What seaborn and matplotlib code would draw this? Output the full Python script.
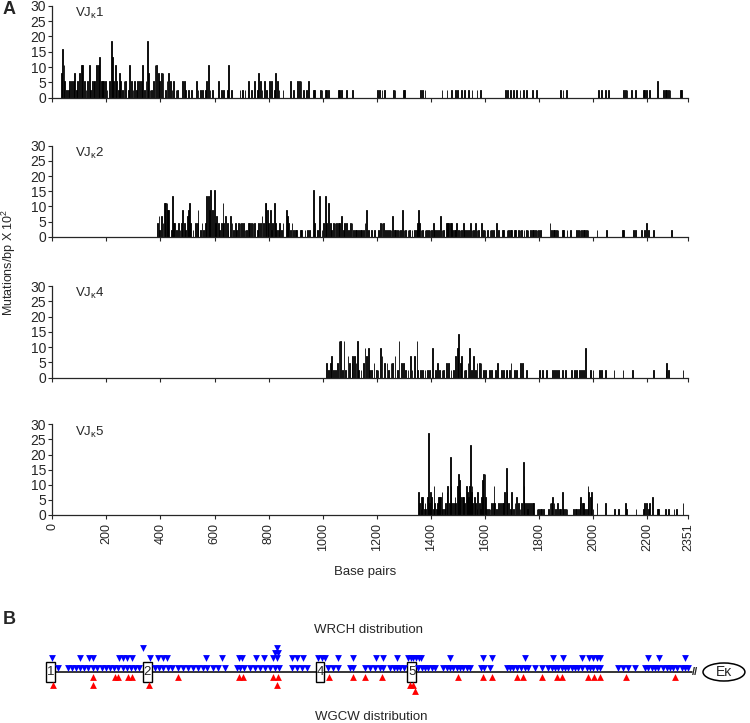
import matplotlib.pyplot as plt
from matplotlib.patches import Rectangle, Ellipse
import seaborn as sns

# ---- data: (base pair position, mutations/bp x 10^2) ----
vjk1 = [(35, 7.9), (38, 15.8), (43, 10.5), (47, 5.3), (53, 2.6), (59, 2.6), (65, 5.3), (71, 5.3),
        (78, 5.3), (81, 7.9), (88, 2.6), (94, 5.3), (100, 7.9), (106, 10.5), (112, 10.5), (117, 5.3),
        (125, 2.6), (131, 5.3), (137, 10.5), (142, 2.6), (148, 5.3), (154, 5.3), (158, 5.3), (164, 10.5),
        (170, 10.5), (174, 13.2), (180, 5.3), (185, 5.3), (191, 5.3), (197, 5.3), (203, 2.6), (210, 5.3),
        (217, 18.4), (222, 13.2), (226, 5.3), (232, 10.5), (238, 5.3), (244, 2.6), (248, 7.9), (254, 5.3),
        (260, 2.6), (266, 5.3), (272, 5.3), (279, 2.6), (285, 10.5), (291, 5.3), (297, 2.6), (303, 5.3),
        (309, 2.6), (316, 5.3), (322, 5.3), (328, 5.3), (334, 10.5), (340, 2.6), (346, 5.3), (351, 18.4),
        (356, 7.9), (361, 2.6), (367, 2.6), (374, 5.3), (380, 10.5), (386, 10.5), (392, 7.9), (398, 5.3),
        (404, 7.9), (410, 7.9), (417, 2.6), (423, 5.3), (429, 7.9), (435, 5.3), (441, 2.6), (447, 5.3),
        (457, 2.6), (463, 2.6), (482, 5.3), (487, 5.3), (492, 2.6), (503, 2.6), (515, 2.6), (531, 5.3),
        (537, 2.6), (546, 2.6), (556, 2.6), (565, 2.6), (571, 5.3), (577, 10.5), (583, 2.6), (592, 2.6),
        (614, 5.3), (626, 2.6), (635, 2.6), (645, 2.6), (653, 10.5), (661, 2.6), (694, 2.6), (703, 2.6),
        (713, 2.6), (725, 5.3), (737, 2.6), (749, 5.3), (758, 2.6), (764, 7.9), (768, 5.3), (774, 2.6),
        (783, 5.3), (792, 2.6), (802, 5.3), (811, 5.3), (820, 2.6), (827, 7.9), (832, 5.3), (839, 2.6),
        (854, 2.6), (881, 5.3), (891, 2.6), (907, 5.3), (913, 5.3), (920, 5.3), (928, 2.6), (941, 2.6),
        (947, 5.3), (965, 2.6), (971, 2.6), (990, 2.6), (996, 2.6), (1008, 2.6), (1015, 2.6), (1021, 2.6),
        (1058, 2.6), (1064, 2.6), (1070, 2.6), (1088, 2.6), (1111, 2.6), (1202, 2.6), (1209, 2.6),
        (1218, 2.6), (1227, 2.6), (1261, 2.6), (1267, 2.6), (1296, 2.6), (1302, 2.6), (1360, 2.6),
        (1370, 2.6), (1378, 2.6), (1440, 2.6), (1458, 2.6), (1477, 2.6), (1493, 2.6), (1498, 2.6),
        (1514, 2.6), (1526, 2.6), (1539, 2.6), (1551, 2.6), (1569, 2.6), (1582, 2.6), (1674, 2.6),
        (1683, 2.6), (1693, 2.6), (1705, 2.6), (1717, 2.6), (1730, 2.6), (1742, 2.6), (1754, 2.6),
        (1773, 2.6), (1789, 2.6), (1878, 2.6), (1887, 2.6), (1900, 2.6), (2019, 2.6), (2032, 2.6),
        (2044, 2.6), (2056, 2.6), (2112, 2.6), (2118, 2.6), (2124, 2.6), (2143, 2.6), (2155, 2.6),
        (2186, 2.6), (2192, 2.6), (2198, 2.6), (2208, 2.6), (2238, 5.3), (2260, 2.6), (2266, 2.6),
        (2272, 2.6), (2278, 2.6), (2284, 2.6), (2324, 2.6), (2327, 2.6)]

vjk2 = [(388, 4.4), (393, 6.7), (398, 2.2), (403, 6.7), (408, 4.4), (414, 11.1), (419, 11.1), (423, 11.1),
        (427, 8.9), (431, 8.9), (438, 2.2), (444, 13.3), (447, 4.4), (452, 4.4), (460, 2.2), (466, 4.4),
        (472, 2.2), (477, 4.4), (482, 8.9), (487, 4.4), (493, 2.2), (499, 6.7), (503, 8.9), (508, 11.1),
        (512, 4.4), (519, 2.2), (528, 4.4), (534, 4.4), (539, 8.9), (546, 2.2), (552, 4.4), (558, 2.2),
        (565, 4.4), (571, 13.3), (576, 13.3), (581, 8.9), (587, 15.5), (592, 8.9), (598, 15.5), (603, 4.4),
        (608, 6.7), (614, 4.4), (620, 2.2), (625, 4.4), (630, 11.1), (635, 4.4), (640, 6.7), (645, 4.4),
        (650, 2.2), (657, 6.7), (663, 4.4), (669, 2.2), (676, 4.4), (682, 2.2), (688, 4.4), (694, 4.4),
        (700, 4.4), (706, 4.4), (712, 2.2), (719, 2.2), (725, 4.4), (731, 4.4), (737, 4.4), (743, 4.4),
        (749, 4.4), (756, 2.2), (763, 4.4), (768, 4.4), (774, 6.7), (780, 4.4), (786, 11.1), (790, 11.1),
        (795, 8.9), (800, 4.4), (805, 8.9), (810, 2.2), (815, 4.4), (820, 11.1), (825, 4.4), (830, 2.2),
        (836, 2.2), (842, 4.4), (848, 2.2), (854, 4.4), (864, 8.9), (869, 6.7), (874, 4.4), (879, 2.2),
        (885, 4.4), (891, 2.2), (897, 2.2), (904, 2.2), (916, 2.2), (922, 2.2), (934, 2.2), (943, 2.2),
        (953, 2.2), (965, 15.5), (971, 4.4), (978, 2.2), (987, 13.3), (996, 2.2), (1002, 4.4), (1008, 13.3),
        (1015, 4.4), (1021, 11.1), (1027, 4.4), (1033, 2.2), (1039, 4.4), (1045, 4.4), (1052, 4.4),
        (1058, 4.4), (1064, 4.4), (1070, 6.7), (1076, 2.2), (1082, 4.4), (1088, 4.4), (1095, 2.2),
        (1101, 4.4), (1107, 4.4), (1113, 2.2), (1119, 2.2), (1125, 2.2), (1132, 2.2), (1138, 2.2),
        (1144, 2.2), (1150, 2.2), (1156, 4.4), (1162, 8.9), (1169, 2.2), (1181, 2.2), (1193, 2.2),
        (1206, 2.2), (1214, 4.4), (1219, 4.4), (1224, 4.4), (1230, 2.2), (1239, 2.2), (1246, 2.2),
        (1251, 2.2), (1258, 6.7), (1264, 2.2), (1270, 2.2), (1276, 2.2), (1282, 2.2), (1288, 2.2),
        (1294, 8.9), (1301, 2.2), (1307, 2.2), (1314, 2.2), (1320, 2.2), (1329, 2.2), (1338, 2.2),
        (1344, 2.2), (1350, 4.4), (1354, 8.9), (1357, 4.4), (1362, 2.2), (1370, 2.2), (1378, 2.2),
        (1385, 2.2), (1391, 2.2), (1397, 2.2), (1403, 2.2), (1409, 4.4), (1415, 2.2), (1421, 2.2),
        (1428, 2.2), (1434, 6.7), (1440, 2.2), (1446, 2.2), (1456, 4.4), (1461, 4.4), (1466, 4.4),
        (1471, 4.4), (1476, 4.4), (1481, 2.2), (1486, 2.2), (1491, 2.2), (1495, 4.4), (1502, 2.2),
        (1508, 2.2), (1514, 2.2), (1520, 4.4), (1526, 2.2), (1532, 2.2), (1539, 2.2), (1545, 4.4),
        (1551, 2.2), (1557, 2.2), (1563, 4.4), (1569, 2.2), (1576, 2.2), (1588, 4.4), (1594, 2.2),
        (1600, 2.2), (1609, 2.2), (1619, 2.2), (1625, 2.2), (1631, 2.2), (1643, 4.4), (1650, 2.2),
        (1662, 2.2), (1668, 2.2), (1680, 2.2), (1686, 2.2), (1693, 2.2), (1699, 2.2), (1707, 2.2),
        (1715, 2.2), (1723, 2.2), (1730, 2.2), (1736, 2.2), (1744, 2.2), (1752, 2.2), (1760, 2.2),
        (1767, 2.2), (1773, 2.2), (1779, 2.2), (1785, 2.2), (1791, 2.2), (1797, 2.2), (1804, 2.2),
        (1841, 4.4), (1847, 2.2), (1853, 2.2), (1859, 2.2), (1865, 2.2), (1871, 2.2), (1884, 2.2),
        (1890, 2.2), (1902, 2.2), (1915, 2.2), (1939, 2.2), (1945, 2.2), (1952, 2.2), (1958, 2.2),
        (1964, 2.2), (1970, 2.2), (1976, 2.2), (1982, 2.2), (2013, 2.2), (2050, 2.2), (2106, 2.2),
        (2112, 2.2), (2149, 2.2), (2155, 2.2), (2180, 2.2), (2192, 2.2), (2198, 4.4), (2204, 2.2),
        (2223, 2.2), (2291, 2.2)]

vjk4 = [(1015, 4.8), (1020, 2.4), (1027, 4.8), (1033, 7.2), (1038, 2.4), (1047, 2.4), (1054, 4.8),
        (1059, 12.0), (1066, 12.0), (1071, 2.4), (1077, 12.0), (1084, 2.4), (1092, 7.2), (1100, 4.8),
        (1107, 4.8), (1112, 7.2), (1117, 7.2), (1123, 4.8), (1128, 12.0), (1133, 2.4), (1142, 2.4),
        (1149, 4.8), (1156, 9.6), (1161, 7.2), (1167, 9.6), (1174, 2.4), (1181, 2.4), (1188, 4.8),
        (1197, 2.4), (1204, 2.4), (1213, 9.6), (1220, 7.2), (1227, 4.8), (1236, 4.8), (1244, 2.4),
        (1251, 4.8), (1258, 4.8), (1267, 7.2), (1276, 2.4), (1283, 12.0), (1290, 4.8), (1297, 4.8),
        (1306, 2.4), (1315, 2.4), (1324, 7.2), (1331, 2.4), (1338, 7.2), (1347, 12.0), (1352, 2.4),
        (1359, 2.4), (1368, 2.4), (1377, 2.4), (1386, 2.4), (1394, 2.4), (1405, 9.6), (1416, 2.4),
        (1423, 4.8), (1431, 2.4), (1440, 2.4), (1447, 2.4), (1456, 4.8), (1465, 4.8), (1474, 2.4),
        (1483, 2.4), (1491, 7.2), (1497, 9.6), (1502, 14.4), (1509, 4.8), (1514, 7.2), (1521, 2.4),
        (1528, 2.4), (1536, 4.8), (1543, 9.6), (1550, 2.4), (1557, 7.2), (1564, 2.4), (1571, 4.8),
        (1578, 4.8), (1585, 4.8), (1594, 2.4), (1603, 2.4), (1615, 2.4), (1624, 2.4), (1638, 2.4),
        (1645, 4.8), (1659, 2.4), (1668, 2.4), (1677, 2.4), (1682, 2.4), (1689, 2.4), (1696, 4.8),
        (1709, 2.4), (1717, 2.4), (1733, 4.8), (1739, 4.8), (1753, 2.4), (1800, 2.4), (1813, 2.4),
        (1827, 2.4), (1850, 2.4), (1857, 2.4), (1864, 2.4), (1874, 2.4), (1885, 2.4), (1897, 2.4),
        (1920, 2.4), (1929, 2.4), (1938, 2.4), (1947, 2.4), (1956, 2.4), (1963, 2.4), (1972, 9.6),
        (1991, 2.4), (2000, 2.4), (2024, 2.4), (2033, 2.4), (2044, 2.4), (2077, 2.4), (2109, 2.4),
        (2146, 2.4), (2224, 2.4), (2270, 2.4), (2273, 4.8), (2279, 2.4), (2333, 2.4)]

vjk5 = [(1354, 7.7), (1357, 3.9), (1362, 1.9), (1366, 5.8), (1370, 5.8), (1375, 1.9), (1378, 3.9),
        (1382, 1.9), (1387, 5.8), (1391, 27.0), (1394, 3.9), (1398, 7.7), (1402, 5.8), (1407, 1.9),
        (1412, 9.7), (1415, 3.9), (1419, 1.9), (1424, 3.9), (1428, 5.8), (1431, 5.8), (1436, 5.8),
        (1440, 7.7), (1444, 1.9), (1449, 1.9), (1454, 3.9), (1458, 7.7), (1462, 9.7), (1467, 3.9),
        (1471, 19.3), (1474, 9.7), (1478, 3.9), (1483, 3.9), (1488, 5.8), (1493, 3.9), (1497, 9.7),
        (1500, 13.5), (1504, 11.6), (1508, 7.7), (1511, 5.8), (1515, 5.8), (1520, 5.8), (1525, 3.9),
        (1531, 9.7), (1535, 7.7), (1539, 5.8), (1542, 9.7), (1545, 23.2), (1548, 7.7), (1552, 9.7),
        (1556, 3.9), (1560, 5.8), (1564, 3.9), (1569, 1.9), (1574, 7.7), (1579, 3.9), (1583, 1.9),
        (1588, 5.8), (1592, 11.6), (1595, 13.5), (1599, 13.5), (1603, 5.8), (1606, 1.9), (1613, 1.9),
        (1619, 1.9), (1625, 3.9), (1629, 3.9), (1633, 9.7), (1637, 3.9), (1643, 1.9), (1650, 3.9),
        (1656, 3.9), (1662, 3.9), (1668, 3.9), (1673, 7.7), (1677, 15.4), (1680, 7.7), (1686, 3.9),
        (1693, 1.9), (1699, 7.7), (1705, 1.9), (1711, 3.9), (1717, 5.8), (1723, 3.9), (1730, 1.9),
        (1736, 3.9), (1740, 17.4), (1743, 9.7), (1747, 3.9), (1752, 3.9), (1757, 1.9), (1762, 3.9),
        (1767, 3.9), (1773, 3.9), (1779, 3.9), (1791, 1.9), (1797, 1.9), (1804, 1.9), (1810, 1.9),
        (1816, 1.9), (1834, 1.9), (1841, 3.9), (1847, 3.9), (1850, 5.8), (1855, 3.9), (1862, 1.9),
        (1868, 3.9), (1875, 1.9), (1880, 1.9), (1885, 7.7), (1890, 1.9), (1896, 1.9), (1902, 1.9),
        (1927, 1.9), (1933, 1.9), (1939, 1.9), (1945, 1.9), (1952, 3.9), (1955, 5.8), (1959, 3.9),
        (1964, 3.9), (1970, 1.9), (1976, 1.9), (1980, 9.7), (1984, 7.7), (1989, 5.8), (1992, 7.7),
        (1998, 1.9), (2013, 3.9), (2044, 3.9), (2081, 1.9), (2093, 1.9), (2118, 3.9), (2122, 1.9),
        (2159, 1.9), (2186, 1.9), (2192, 3.9), (2198, 3.9), (2204, 1.9), (2210, 3.9), (2217, 5.8),
        (2238, 1.9), (2242, 1.9), (2266, 1.9), (2278, 1.9), (2299, 1.9), (2307, 1.9), (2331, 3.9)]

panels = [("1", vjk1), ("2", vjk2), ("4", vjk4), ("5", vjk5)]
x_ticks = [0, 200, 400, 600, 800, 1000, 1200, 1400, 1600, 1800, 2000, 2200, 2351]
y_ticks = [0, 5, 10, 15, 20, 25, 30]

# ---- panel B: hotspot motif positions (bp) by stack level ----
wrch_level0 = [22, 59, 74, 88, 102, 118, 133, 149, 166, 183, 197, 213, 228, 244, 260, 275, 290, 306, 321,
               380, 395, 411, 427, 441, 466, 485, 503, 521, 540, 558, 571, 595, 614, 639, 682, 694, 709,
               731, 750, 768, 787, 805, 824, 840, 885, 904, 922, 941, 1021, 1039, 1058, 1101, 1113, 1156,
               1175, 1193, 1212, 1224, 1249, 1262, 1274, 1287, 1301, 1353, 1366, 1378, 1391, 1403, 1415,
               1446, 1458, 1471, 1483, 1495, 1508, 1520, 1532, 1545, 1584, 1596, 1619, 1680, 1693, 1705,
               1717, 1732, 1748, 1760, 1785, 1810, 1834, 1847, 1859, 1871, 1884, 1896, 1908, 1921, 1933,
               1946, 1958, 1976, 1988, 2001, 2013, 2025, 2093, 2112, 2130, 2155, 2192, 2204, 2217, 2229,
               2241, 2260, 2272, 2284, 2297, 2309, 2327, 2340, 2352]
wrch_level1 = [0, 102, 137, 152, 247, 263, 277, 294, 361, 392, 411, 423, 567, 626, 690, 700, 753, 783,
               817, 830, 885, 904, 928, 984, 996, 1008, 1055, 1111, 1196, 1224, 1276, 1317, 1326, 1335,
               1345, 1355, 1365, 1471, 1594, 1625, 1748, 1853, 1890, 1958, 1986, 1998, 2013, 2025, 2204,
               2245, 2340]
wrch_level2 = [824, 836]
wrch_level3 = [337, 830]
wgcw_level0 = [152, 232, 244, 281, 294, 466, 692, 704, 817, 836, 1024, 1113, 1156, 1218, 1501, 1592,
               1625, 1717, 1740, 1810, 1865, 1884, 1982, 2003, 2025, 2122, 2303]
wgcw_level1 = [4, 152, 359, 832, 1323, 1335]
wgcw_level2 = [1341]
exon_pos = [-6, 351, 990, 1329]
exon_names = ["1", "2", "4", "5"]

sns.set_style("ticks")
plt.rcParams["font.family"] = ["Liberation Sans", "DejaVu Sans"]
plt.rcParams["mathtext.fontset"] = "custom"
plt.rcParams["mathtext.rm"] = "Liberation Sans"
plt.rcParams["mathtext.it"] = "Liberation Sans"

W, H = 750, 723
fig = plt.figure(figsize=(W / 100, H / 100), dpi=100)

left = 52.3 / W
width = (688 - 52.3) / W
tops = [(5.7, 97.7), (145.7, 236.7), (286.0, 377.7), (424.3, 515.0)]

for i, ((name, data), (top, bot)) in enumerate(zip(panels, tops)):
    ax = fig.add_axes([left, 1 - bot / H, width, (bot - top) / H])
    pos = [p for p, v in data]
    val = [v for p, v in data]
    sns.histplot(x=pos, weights=val, binwidth=3, binrange=(0, 2352), color="black",
                 edgecolor="black", linewidth=0.6, alpha=1, ax=ax)
    ax.set_xlim(0, 2351)
    ax.set_ylim(0, 30)
    ax.set_xticks(x_ticks)
    ax.set_yticks(y_ticks)
    ax.set_xlabel("")
    ax.set_ylabel("")
    sns.despine(ax=ax)
    for s in ["left", "bottom"]:
        ax.spines[s].set_linewidth(0.9)
    ax.tick_params(direction="out", length=3, width=0.8, pad=1.5)
    ax.tick_params(axis="y", labelsize=10)
    if i < 3:
        ax.tick_params(axis="x", labelbottom=False)
    else:
        ax.tick_params(axis="x", labelrotation=90, labelsize=9, pad=3)
    ax.text(0.036, 0.915, r"VJ$_{\mathregular{\kappa}}$" + name, transform=ax.transAxes,
            fontsize=9.5, ha="left", va="center")

fig.text(9 / W, 1 - 10 / H, "A", fontsize=13, fontweight="bold", ha="center", va="center")
fig.text(8.5 / W, 1 - 262 / H, r"Mutations/bp X 10$^{2}$", rotation=90, fontsize=9,
         ha="center", va="center")
fig.text(365 / W, 1 - 572 / H, "Base pairs", fontsize=9.5, ha="center", va="center")

# ---- panel B ----
fig.text(9 / W, 1 - 619 / H, "B", fontsize=13, fontweight="bold", ha="center", va="center")
axb = fig.add_axes([left, 1 - 705 / H, width, 65 / H])
axb.set_xlim(0, 2351)
axb.set_ylim(-33, 32)
axb.axis("off")
axb.plot([-16, 2365], [0, 0], color="black", lw=1.1, clip_on=False, zorder=1)

blue_y = {0: 4.5, 1: 14.5, 2: 19.5, 3: 24}
red_y = {0: -5, 1: -13, 2: -19}
for lvl, xs in enumerate([wrch_level0, wrch_level1, wrch_level2, wrch_level3]):
    sns.scatterplot(x=xs, y=[blue_y[lvl]] * len(xs), marker="v", color="#0000ff", s=24,
                    linewidth=0, ax=axb, clip_on=False, zorder=4)
for lvl, xs in enumerate([wgcw_level0, wgcw_level1, wgcw_level2]):
    sns.scatterplot(x=xs, y=[red_y[lvl]] * len(xs), marker="^", color="#ff0000", s=24,
                    linewidth=0, ax=axb, clip_on=False, zorder=4)

for xc, lab in zip(exon_pos, exon_names):
    axb.add_patch(Rectangle((xc - 16.5, -10), 33, 20, facecolor="white", edgecolor="black",
                            lw=1.0, zorder=3, clip_on=False))
    axb.text(xc, 0, lab, fontsize=9.5, ha="center", va="center", zorder=5)

axb.text(2378, 0, "//", fontsize=8, fontweight="bold", ha="center", va="center", zorder=5)
axb.add_patch(Ellipse((2484, 0), 155, 18, facecolor="white", edgecolor="black", lw=1.1,
                      clip_on=False, zorder=3))
axb.text(2484, 0, "E\u03ba", fontsize=10, ha="center", va="center", zorder=5)

fig.text(368 / W, 1 - 630 / H, "WRCH distribution", fontsize=9.5, ha="center", va="center")
fig.text(371 / W, 1 - 716.5 / H, "WGCW distribution", fontsize=9.5, ha="center", va="center")

fig.savefig("out.png", dpi=100)
